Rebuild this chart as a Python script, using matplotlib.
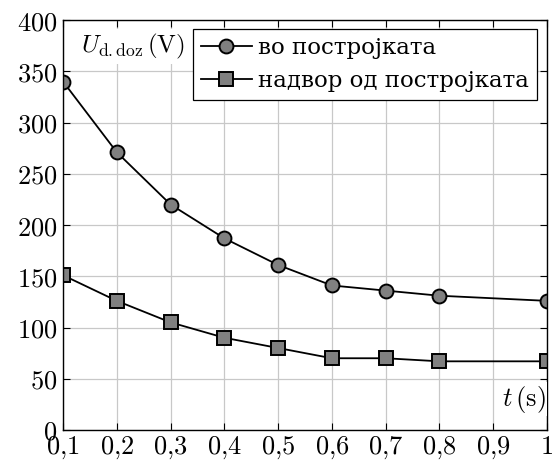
import matplotlib
matplotlib.use("Agg")
import matplotlib.pyplot as plt
import numpy as np

plt.rcParams['mathtext.fontset'] = 'cm'
plt.rcParams['font.family'] = ['DejaVu Serif']

t_in = [0.1, 0.2, 0.3, 0.4, 0.5, 0.6, 0.7, 0.8, 1.0]
u_in = [340, 271, 220, 187, 161, 141, 136, 131, 126]
t_out = [0.1, 0.2, 0.3, 0.4, 0.5, 0.6, 0.7, 0.8, 1.0]
u_out = [151, 126, 105, 90, 80, 70, 70, 67, 67]
xticks = [0.1, 0.2, 0.3, 0.4, 0.5, 0.6, 0.7, 0.8, 0.9, 1.0]
xticklabels = ['$0{,}1$', '$0{,}2$', '$0{,}3$', '$0{,}4$', '$0{,}5$', '$0{,}6$', '$0{,}7$', '$0{,}8$', '$0{,}9$', '$1$']
yticks = [0, 50, 100, 150, 200, 250, 300, 350, 400]
labels = ['во постројката', 'надвор од постројката']

fig = plt.figure(figsize=(5.52, 4.62), dpi=100)
ax = fig.add_axes([63/552, 1-430/462, (547-63)/552, (430-20)/462])

ax.plot(t_in, u_in, color='black', lw=1.3, marker='o', markersize=10,
        markerfacecolor='#808080', markeredgecolor='black', markeredgewidth=1.4, label=labels[0])
ax.plot(t_out, u_out, color='black', lw=1.3, marker='s', markersize=10,
        markerfacecolor='#808080', markeredgecolor='black', markeredgewidth=1.4, label=labels[1])

ax.set_xlim(0.1, 1.0)
ax.set_ylim(0, 400)
ax.set_xticks(xticks)
ax.set_xticklabels(xticklabels)
ax.set_yticks(yticks)
ax.set_yticklabels(['$%d$' % v for v in yticks])
ax.grid(True, color='#c8c8c8', lw=0.9)
ax.set_axisbelow(True)
ax.tick_params(direction='in', top=True, right=True, length=5, width=0.8,
               labelsize=19, pad=4)
ax.tick_params(axis='x', pad=3)
for s in ax.spines.values():
    s.set_linewidth(1.0)

ax.text(0.038, 0.935, r'$U_{\mathrm{d.doz}}\,(\mathrm{V})$', transform=ax.transAxes,
        fontsize=18, ha='left', va='center',
        bbox=dict(facecolor='white', edgecolor='none', pad=2))
ax.text(0.997, 0.075, r'$t\,(\mathrm{s})$', transform=ax.transAxes,
        fontsize=19, ha='right', va='center',
        bbox=dict(facecolor='white', edgecolor='none', pad=1))

leg = ax.legend(loc='upper right', bbox_to_anchor=(0.98, 0.977), fontsize=16.5,
                fancybox=False, framealpha=1, edgecolor='black',
                handlelength=2.2, handletextpad=0.3, borderpad=0.35, labelspacing=0.45,
                borderaxespad=0)
leg.get_frame().set_linewidth(0.9)

fig.savefig('out.png', dpi=100)
